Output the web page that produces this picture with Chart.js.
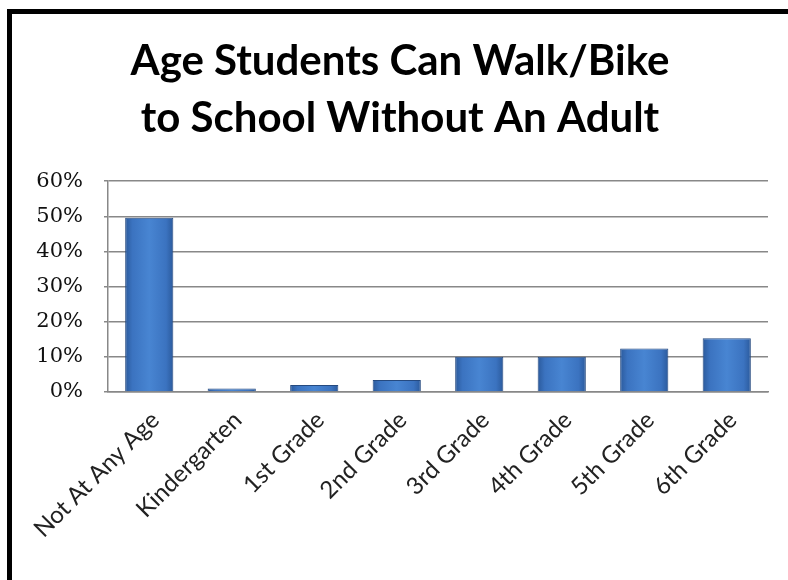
<!DOCTYPE html>
<html>
<head>
<meta charset="utf-8">
<script src="https://cdn.jsdelivr.net/npm/chart.js@4"></script>
<style>
  html, body { margin: 0; padding: 0; background: #fff; }
  #wrap { position: relative; width: 788px; height: 580px; overflow: hidden; }
  #frame { position: absolute; left: 7px; top: 9px; width: 900px; height: 700px;
           border-left: 5px solid #000; border-top: 5px solid #000; }
  canvas { position: absolute; left: 0; top: 0; }
</style>
</head>
<body>
<div id="wrap">
  <div id="frame"></div>
  <canvas id="ageChart" width="788" height="580"></canvas>
</div>
<script>
const labels = ['Not At Any Age', 'Kindergarten', '1st Grade', '2nd Grade', '3rd Grade', '4th Grade', '5th Grade', '6th Grade'];
const shares = [49.6, 1, 2, 3.4, 10, 10, 12.4, 15.3];
const yTicks = [0, 10, 20, 30, 40, 50, 60];

// horizontal shading like the old office bevel bars
const barFill = (context) => {
  const chart = context.chart;
  const x = chart.scales.x;
  if (!x || context.dataIndex === undefined) return '#3d74c0';
  const cx = x.getPixelForValue(context.dataIndex);
  const w = (x.width / labels.length) * 0.8 * 0.73;
  if (!isFinite(cx) || !isFinite(w) || w <= 0) return '#3d74c0';
  const g = chart.ctx.createLinearGradient(cx - w / 2, 0, cx + w / 2, 0);
  g.addColorStop(0, '#2b5a9c');
  g.addColorStop(0.15, '#3b73c0');
  g.addColorStop(0.5, '#4885d2');
  g.addColorStop(0.85, '#3b73c0');
  g.addColorStop(1, '#2b5a9c');
  return g;
};

new Chart(document.getElementById('ageChart'), {
  type: 'bar',
  data: {
    labels: labels,
    datasets: [{
      label: 'Share',
      data: shares,
      backgroundColor: barFill,
      borderColor: '#254a80',
      borderWidth: 1,
      categoryPercentage: 0.8,
      barPercentage: 0.73
    }]
  },
  options: {
    responsive: false,
    animation: false,
    layout: { padding: { left: 32, right: 20, top: 0, bottom: 0 } },
    plugins: {
      legend: { display: false },
      tooltip: { enabled: false },
      title: {
        display: true,
        text: ['Age Students Can Walk/Bike', 'to School Without An Adult'],
        color: '#000',
        font: { family: 'Lato', size: 42, weight: 'bold', lineHeight: 1.36 },
        padding: { top: 33, bottom: 34 }
      }
    },
    scales: {
      x: {
        grid: { display: false },
        border: { color: '#888', width: 1.5 },
        ticks: {
          color: '#222',
          font: { family: 'Lato', size: 24 },
          maxRotation: 45,
          minRotation: 45,
          padding: 6,
          labelOffset: 6
        },
        afterFit: (s) => { s.height = 188; }
      },
      y: {
        min: 0,
        max: 60,
        afterBuildTicks: (s) => { s.ticks = yTicks.map(v => ({ value: v })); },
        grid: { color: '#888', lineWidth: 1.5, drawTicks: true, tickLength: 4 },
        border: { color: '#888', width: 1.5 },
        ticks: {
          color: '#111',
          font: { family: 'DejaVu Serif', size: 21 },
          padding: 21,
          callback: (v) => v + '%'
        },
        afterFit: (s) => { s.width = 76; }
      }
    }
  }
});
</script>
</body>
</html>
